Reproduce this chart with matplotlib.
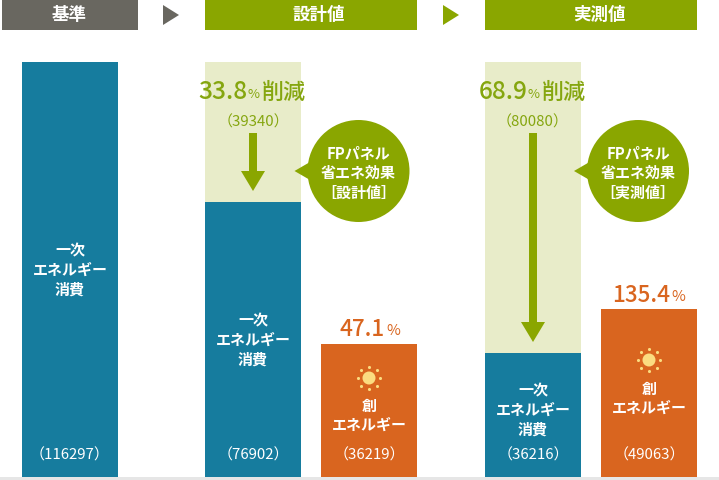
import matplotlib
matplotlib.use('Agg')
import matplotlib.pyplot as plt
from matplotlib.patches import Circle, Polygon, Rectangle
import numpy as np

plt.rcParams['font.family'] = ['Noto Sans CJK JP', 'DejaVu Sans']

# data
bar_labels = ['（116297）', '（76902）', '（36219）', '（36216）', '（49063）']
# heights as drawn in the picture (the picture is not quite to scale)
bar_heights = [116297, 77060, 37270, 34750, 47080]
saving_labels = ['（39340）', '（80080）']
saving_pct = ['33.8', '68.9']
create_pct = ['47.1', '135.4']
headers = ['基準', '設計値', '実測値']
circle_names = ['［設計値］', '［実測値］']

BLUE = '#167c9e'
ORANGE = '#d9651f'
GREEN = '#8aa600'
PALE = '#e8ecc9'
GRAY = '#696760'
TXT_GREEN = '#85a60f'
SUN = '#fbdc80'

# size helper, the sizes below are in pixels of the 100 dpi figure
def px(n):
    return n * 0.72

fig = plt.figure(figsize=(7.19, 4.80), dpi=100)

# bars axes: baseline at y=477, the tallest bar reaches y=62
ax = fig.add_axes([0, 3 / 480, 1, 415 / 480])
ax.set_xlim(0, 719)
ax.set_ylim(0, bar_heights[0])
ax.axis('off')

# overlay in image pixels for everything else
ov = fig.add_axes([0, 0, 1, 1], zorder=3)
ov.set_xlim(0, 719)
ov.set_ylim(480, 0)
ov.axis('off')
ov.patch.set_alpha(0)

bar_x = [70, 253, 369, 533, 649]
bar_col = [BLUE, BLUE, ORANGE, BLUE, ORANGE]
ax.bar(bar_x, bar_heights, width=96, color=bar_col)
# reduction part above the blue bars
for i in [1, 3]:
    ax.bar(bar_x[i], bar_heights[0] - bar_heights[i], bottom=bar_heights[i], width=96, color=PALE)

ov.add_patch(Rectangle((0, 477), 719, 3, color='#e6e6e6', lw=0))

# header strip
ov.add_patch(Rectangle((2, 0), 136, 30, color=GRAY, lw=0))
ov.add_patch(Rectangle((205, 0), 212, 30, color=GREEN, lw=0))
ov.add_patch(Rectangle((485, 0), 212, 30, color=GREEN, lw=0))
for x, t in zip([69, 319, 599], headers):
    ov.text(x, 15, t, color='white', fontsize=px(17.5), fontweight='bold', ha='center', va='center')
ov.add_patch(Polygon([(163, 5), (179, 15), (163, 25)], color=GRAY, lw=0))
ov.add_patch(Polygon([(443, 5), (459, 15), (443, 25)], color=GREEN, lw=0))

# stacked lines, one text per line so the spacing stays even
def stack_text(x, y, lines):
    for i, line in enumerate(lines):
        ov.text(x, y + i * 19.5 + 5.5, line, color='white', fontsize=px(15), fontweight='bold',
                ha='center', va='baseline')

stack_text(70, 250, ['一次', 'エネルギー', '消費'])
stack_text(253, 320, ['一次', 'エネルギー', '消費'])
stack_text(533, 390, ['一次', 'エネルギー', '消費'])
stack_text(369, 405, ['創', 'エネルギー'])
stack_text(649, 388, ['創', 'エネルギー'])
for x, t in zip(bar_x, bar_labels):
    ov.text(x, 455.5, t, color='white', fontsize=px(15), ha='center', va='center')

# savings text and arrows
for x, pct, lab, tip, name, cx in zip([253, 533], saving_pct, saving_labels, [191, 342], circle_names, [358.5, 638]):
    ov.text(x - 5.5, 92, pct, color=TXT_GREEN, fontsize=px(24.5), fontweight='medium', ha='right', va='center')
    ov.text(x + 1, 94, '%', color=TXT_GREEN, fontsize=px(13), ha='center', va='center')
    ov.text(x + 8.5, 92, '削減', color=TXT_GREEN, fontsize=px(22), fontweight='medium', ha='left', va='center')
    ov.text(x, 122, lab, color=TXT_GREEN, fontsize=px(15), ha='center', va='center')
    ov.add_patch(Polygon([(x - 4, 133), (x + 4, 133), (x + 4, tip - 20), (x + 12, tip - 20),
                          (x, tip), (x - 12, tip - 20), (x - 4, tip - 20)], color=GREEN, lw=0))
    # speech bubble
    ov.add_patch(Circle((cx, 171), 51, color=GREEN, lw=0))
    ov.add_patch(Polygon([(cx - 64, 171), (cx - 45, 160), (cx - 45, 182)], color=GREEN, lw=0))
    stack_text(cx, 153, ['FPパネル', '省エネ効果', name])

# percent over the orange bars
for xr, y, pct in zip([385, 670], [329, 295], create_pct):
    ov.text(xr, y, pct, color=ORANGE, fontsize=px(22.5), fontweight='medium', ha='right', va='center')
    ov.text(xr + 1, y + 2, '%', color=ORANGE, fontsize=px(15), ha='left', va='center')

# small suns
angles = np.arange(8) * np.pi / 4
for cx, cy in [(369, 378), (649, 360)]:
    ov.add_patch(Circle((cx, cy), 6.5, color=SUN, lw=0))
    ov.scatter(cx + 11 * np.cos(angles), cy + 11 * np.sin(angles), s=5, color=SUN, marker='o', lw=0)

fig.savefig('out.png', dpi=100)
